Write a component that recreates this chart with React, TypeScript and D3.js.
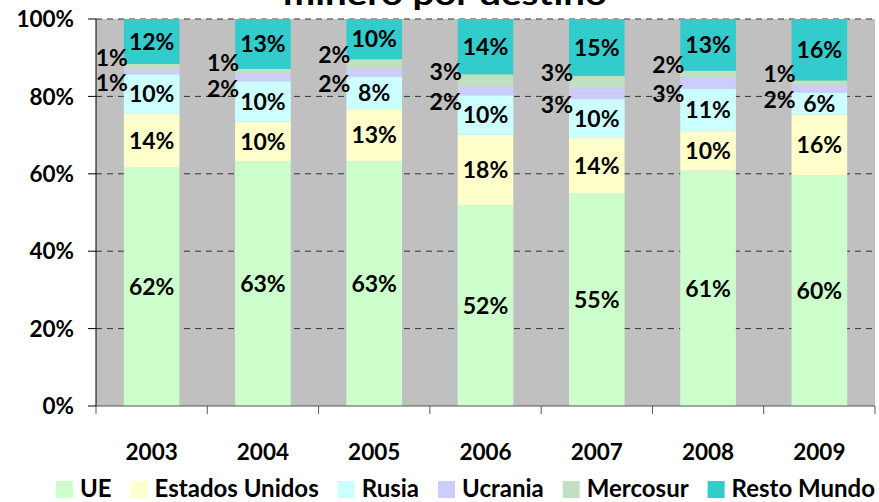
import { useEffect, useRef } from 'react';
import * as d3 from 'd3';

const years = ['2003', '2004', '2005', '2006', '2007', '2008', '2009'];
const ue = [61.6, 63.2, 63.3, 51.9, 55.0, 60.8, 59.7];
const estadosUnidos = [13.9, 10.3, 13.4, 18.2, 14.3, 10.2, 15.6];
const rusia = [10.2, 10.4, 8.4, 10.2, 10.0, 11.0, 5.7];
const ucrania = [1.4, 2.0, 2.1, 2.3, 2.8, 3.0, 1.8];
const mercosur = [1.3, 1.2, 2.4, 3.1, 3.2, 1.6, 1.3];
const restoMundo = [11.6, 12.9, 10.4, 14.3, 14.7, 13.4, 15.9];

const seriesNames = ['UE', 'Estados Unidos', 'Rusia', 'Ucrania', 'Mercosur', 'Resto Mundo'];
const seriesValues = [ue, estadosUnidos, rusia, ucrania, mercosur, restoMundo];
const colors = ['#ccffcc', '#ffffcc', '#ccffff', '#ccccff', '#c3dfc3', '#33cccc'];
const yTicks = [0, 0.2, 0.4, 0.6, 0.8, 1];

const W = 879;
const H = 502;
const FONT = 'Lato, "Open Sans", sans-serif';

export default function App() {
    const svgRef = useRef<SVGSVGElement>(null);

    useEffect(() => {
        if (!svgRef.current) return;
        const svg = d3.select(svgRef.current);
        svg.selectAll('*').remove();

        const margin = { top: 19, right: 4, bottom: 96, left: 96 };
        const innerW = W - margin.left - margin.right;
        const innerH = H - margin.top - margin.bottom;

        const rows = years.map((year, i) => {
            const r: Record<string, number | string> = { year };
            seriesNames.forEach((s, k) => { r[s] = seriesValues[k][i]; });
            return r;
        });
        const stacked = d3.stack<Record<string, number | string>>()
            .keys(seriesNames)
            .offset(d3.stackOffsetExpand)(rows);

        const x = d3.scaleBand().domain(years).range([0, innerW]).paddingInner(0.5).paddingOuter(0.25);
        const xOuter = d3.scaleBand().domain(years).range([0, innerW]);
        const y = d3.scaleLinear().domain([0, 1]).range([innerH, 0]);
        const pct = d3.format('.0%');

        // title (only the bottom of the second line shows)
        svg.append('text')
            .attr('x', 445)
            .attr('y', 5)
            .attr('text-anchor', 'middle')
            .attr('font-family', FONT)
            .attr('font-weight', 'bold')
            .attr('font-size', 30)
            .attr('textLength', 324)
            .attr('lengthAdjust', 'spacingAndGlyphs')
            .text('minero por destino');

        const g = svg.append('g').attr('transform', `translate(${margin.left},${margin.top})`);

        g.append('rect')
            .attr('width', innerW)
            .attr('height', innerH)
            .attr('fill', '#c0c0c0');

        g.selectAll('.grid')
            .data(yTicks.filter(t => t > 0))
            .join('line')
            .attr('x1', 0)
            .attr('x2', innerW)
            .attr('y1', d => y(d))
            .attr('y2', d => y(d))
            .attr('stroke', '#333')
            .attr('stroke-dasharray', '6,5');

        const layers = g.selectAll('.layer')
            .data(stacked)
            .join('g')
            .attr('fill', (_, i) => colors[i]);

        layers.selectAll('rect')
            .data(d => d)
            .join('rect')
            .attr('x', d => x(d.data.year as string)!)
            .attr('width', x.bandwidth())
            .attr('y', d => y(d[1]))
            .attr('height', d => y(d[0]) - y(d[1]));

        // labels
        stacked.forEach((layer, k) => {
            const name = seriesNames[k];
            const outside = name === 'Ucrania' || name === 'Mercosur';
            g.selectAll(`.lbl${k}`)
                .data(layer)
                .join('text')
                .attr('x', d => outside ? x(d.data.year as string)! - 12 : x(d.data.year as string)! + x.bandwidth() / 2)
                .attr('y', d => {
                    const c = (y(d[0]) + y(d[1])) / 2;
                    if (name === 'Mercosur') return c - 9;
                    if (name === 'Ucrania') return c + 11;
                    return c;
                })
                .attr('dy', '0.36em')
                .attr('text-anchor', 'middle')
                .attr('font-family', FONT)
                .attr('font-weight', 'bold')
                .attr('font-size', 23)
                .attr('fill', '#000')
                .text(d => pct(d[1] - d[0]));
        });

        // y axis
        g.append('line').attr('x1', 0).attr('x2', 0).attr('y1', 0).attr('y2', innerH).attr('stroke', '#000');
        g.selectAll('.ytick')
            .data(yTicks)
            .join('line')
            .attr('x1', -8).attr('x2', 0)
            .attr('y1', d => y(d)).attr('y2', d => y(d))
            .attr('stroke', '#000');
        g.selectAll('.ylab')
            .data(yTicks)
            .join('text')
            .attr('x', -22)
            .attr('y', d => y(d))
            .attr('dy', '0.36em')
            .attr('text-anchor', 'end')
            .attr('font-family', FONT)
            .attr('font-weight', 'bold')
            .attr('font-size', 22.5)
            .text(d => pct(d));

        // x axis
        g.append('line').attr('x1', 0).attr('x2', innerW).attr('y1', innerH).attr('y2', innerH).attr('stroke', '#555');
        g.selectAll('.xtick')
            .data([...years.map(yr => xOuter(yr)!), innerW])
            .join('line')
            .attr('x1', d => d).attr('x2', d => d)
            .attr('y1', innerH).attr('y2', innerH + 8)
            .attr('stroke', '#555');
        g.selectAll('.xlab')
            .data(years)
            .join('text')
            .attr('x', d => xOuter(d)! + xOuter.bandwidth() / 2)
            .attr('y', innerH + 54)
            .attr('text-anchor', 'middle')
            .attr('font-family', FONT)
            .attr('font-weight', 'bold')
            .attr('font-size', 22.5)
            .text(d => d);

        // legend, spread from x=56 to the plot's right edge
        const legend = svg.append('g').attr('transform', `translate(56,${H - 4})`);
        const sw = 17;
        const items = seriesNames.map((name, i) => {
            const item = legend.append('g');
            item.append('rect').attr('x', 0).attr('y', -sw).attr('width', sw).attr('height', sw).attr('fill', colors[i]);
            const t = item.append('text')
                .attr('x', sw + 7)
                .attr('y', -1)
                .attr('font-family', FONT)
                .attr('font-weight', 'bold')
                .attr('font-size', 24)
                .text(name);
            const tw = (t.node() as SVGTextElement).getComputedTextLength();
            return { item, w: sw + 7 + tw };
        });
        const span = margin.left + innerW - 56;
        const gap = (span - d3.sum(items, d => d.w)) / (items.length - 1);
        let cx = 0;
        items.forEach(({ item, w }) => {
            item.attr('transform', `translate(${cx},0)`);
            cx += w + gap;
        });
    }, []);

    return (
        <svg ref={svgRef} width={W} height={H} style={{ position: 'absolute', left: 0, top: 0, background: '#fff' }}></svg>
    );
}
